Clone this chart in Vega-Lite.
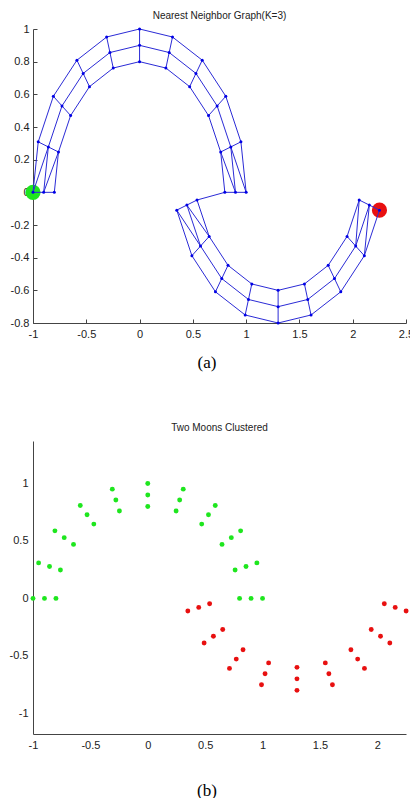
{
  "$schema": "https://vega.github.io/schema/vega-lite/v6.json",
  "background": "white",
  "padding": {"left": 9, "top": 11, "right": 0, "bottom": 0},
  "config": {
    "view": {"stroke": null},
    "font": "Liberation Sans",
    "concat": {"spacing": 53},
    "title": {"font": "Liberation Sans", "fontSize": 10, "fontWeight": "normal", "color": "#222", "offset": 8, "anchor": "middle"},
    "axis": {"grid": false, "labelFont": "Liberation Sans", "labelFontSize": 11, "labelColor": "#222", "domainColor": "#444", "tickColor": "#444", "labelFlush": false, "labelOverlap": false, "titleFont": "Liberation Serif", "titleFontSize": 17, "titleFontWeight": "normal", "titleColor": "#000"}
  },
  "datasets": {
    "points": [
      {"id": "U180-10", "x": -1, "y": 0, "cluster": "A"},
      {"id": "U162-10", "x": -0.951, "y": 0.309, "cluster": "A"},
      {"id": "U144-10", "x": -0.809, "y": 0.588, "cluster": "A"},
      {"id": "U126-10", "x": -0.588, "y": 0.809, "cluster": "A"},
      {"id": "U108-10", "x": -0.309, "y": 0.951, "cluster": "A"},
      {"id": "U90-10", "x": 0, "y": 1, "cluster": "A"},
      {"id": "U72-10", "x": 0.309, "y": 0.951, "cluster": "A"},
      {"id": "U54-10", "x": 0.588, "y": 0.809, "cluster": "A"},
      {"id": "U36-10", "x": 0.809, "y": 0.588, "cluster": "A"},
      {"id": "U18-10", "x": 0.951, "y": 0.309, "cluster": "A"},
      {"id": "U0-10", "x": 1, "y": 0, "cluster": "A"},
      {"id": "U180-9", "x": -0.9, "y": 0, "cluster": "A"},
      {"id": "U162-9", "x": -0.856, "y": 0.278, "cluster": "A"},
      {"id": "U144-9", "x": -0.728, "y": 0.529, "cluster": "A"},
      {"id": "U126-9", "x": -0.529, "y": 0.728, "cluster": "A"},
      {"id": "U108-9", "x": -0.278, "y": 0.856, "cluster": "A"},
      {"id": "U90-9", "x": 0, "y": 0.9, "cluster": "A"},
      {"id": "U72-9", "x": 0.278, "y": 0.856, "cluster": "A"},
      {"id": "U54-9", "x": 0.529, "y": 0.728, "cluster": "A"},
      {"id": "U36-9", "x": 0.728, "y": 0.529, "cluster": "A"},
      {"id": "U18-9", "x": 0.856, "y": 0.278, "cluster": "A"},
      {"id": "U0-9", "x": 0.9, "y": 0, "cluster": "A"},
      {"id": "U180-8", "x": -0.8, "y": 0, "cluster": "A"},
      {"id": "U162-8", "x": -0.761, "y": 0.247, "cluster": "A"},
      {"id": "U144-8", "x": -0.647, "y": 0.47, "cluster": "A"},
      {"id": "U126-8", "x": -0.47, "y": 0.647, "cluster": "A"},
      {"id": "U108-8", "x": -0.247, "y": 0.761, "cluster": "A"},
      {"id": "U90-8", "x": 0, "y": 0.8, "cluster": "A"},
      {"id": "U72-8", "x": 0.247, "y": 0.761, "cluster": "A"},
      {"id": "U54-8", "x": 0.47, "y": 0.647, "cluster": "A"},
      {"id": "U36-8", "x": 0.647, "y": 0.47, "cluster": "A"},
      {"id": "U18-8", "x": 0.761, "y": 0.247, "cluster": "A"},
      {"id": "U0-8", "x": 0.8, "y": 0, "cluster": "A"},
      {"id": "L18-10", "x": 2.251, "y": -0.109, "cluster": "B"},
      {"id": "L36-10", "x": 2.109, "y": -0.388, "cluster": "B"},
      {"id": "L54-10", "x": 1.888, "y": -0.609, "cluster": "B"},
      {"id": "L72-10", "x": 1.609, "y": -0.751, "cluster": "B"},
      {"id": "L90-10", "x": 1.3, "y": -0.8, "cluster": "B"},
      {"id": "L108-10", "x": 0.991, "y": -0.751, "cluster": "B"},
      {"id": "L126-10", "x": 0.712, "y": -0.609, "cluster": "B"},
      {"id": "L144-10", "x": 0.491, "y": -0.388, "cluster": "B"},
      {"id": "L162-10", "x": 0.349, "y": -0.109, "cluster": "B"},
      {"id": "L18-9", "x": 2.156, "y": -0.078, "cluster": "B"},
      {"id": "L36-9", "x": 2.028, "y": -0.329, "cluster": "B"},
      {"id": "L54-9", "x": 1.829, "y": -0.528, "cluster": "B"},
      {"id": "L72-9", "x": 1.578, "y": -0.656, "cluster": "B"},
      {"id": "L90-9", "x": 1.3, "y": -0.7, "cluster": "B"},
      {"id": "L108-9", "x": 1.022, "y": -0.656, "cluster": "B"},
      {"id": "L126-9", "x": 0.771, "y": -0.528, "cluster": "B"},
      {"id": "L144-9", "x": 0.572, "y": -0.329, "cluster": "B"},
      {"id": "L162-9", "x": 0.444, "y": -0.078, "cluster": "B"},
      {"id": "L18-8", "x": 2.061, "y": -0.047, "cluster": "B"},
      {"id": "L36-8", "x": 1.947, "y": -0.27, "cluster": "B"},
      {"id": "L54-8", "x": 1.77, "y": -0.447, "cluster": "B"},
      {"id": "L72-8", "x": 1.547, "y": -0.561, "cluster": "B"},
      {"id": "L90-8", "x": 1.3, "y": -0.6, "cluster": "B"},
      {"id": "L108-8", "x": 1.053, "y": -0.561, "cluster": "B"},
      {"id": "L126-8", "x": 0.83, "y": -0.447, "cluster": "B"},
      {"id": "L144-8", "x": 0.653, "y": -0.27, "cluster": "B"},
      {"id": "L162-8", "x": 0.539, "y": -0.047, "cluster": "B"}
    ],
    "seeds": [
      {"x": -1, "y": 0, "cluster": "A"},
      {"x": 2.251, "y": -0.109, "cluster": "B"}
    ],
    "edges": [
      {"s": "U180-10", "t": "U162-10"}, {"s": "U162-10", "t": "U144-10"}, {"s": "U144-10", "t": "U126-10"}, {"s": "U126-10", "t": "U108-10"}, {"s": "U108-10", "t": "U90-10"},
      {"s": "U90-10", "t": "U72-10"}, {"s": "U72-10", "t": "U54-10"}, {"s": "U54-10", "t": "U36-10"}, {"s": "U36-10", "t": "U18-10"}, {"s": "U18-10", "t": "U0-10"},
      {"s": "U180-9", "t": "U162-9"}, {"s": "U162-9", "t": "U144-9"}, {"s": "U144-9", "t": "U126-9"}, {"s": "U126-9", "t": "U108-9"}, {"s": "U108-9", "t": "U90-9"},
      {"s": "U90-9", "t": "U72-9"}, {"s": "U72-9", "t": "U54-9"}, {"s": "U54-9", "t": "U36-9"}, {"s": "U36-9", "t": "U18-9"}, {"s": "U18-9", "t": "U0-9"},
      {"s": "U180-8", "t": "U162-8"}, {"s": "U162-8", "t": "U144-8"}, {"s": "U144-8", "t": "U126-8"}, {"s": "U126-8", "t": "U108-8"}, {"s": "U108-8", "t": "U90-8"},
      {"s": "U90-8", "t": "U72-8"}, {"s": "U72-8", "t": "U54-8"}, {"s": "U54-8", "t": "U36-8"}, {"s": "U36-8", "t": "U18-8"}, {"s": "U18-8", "t": "U0-8"},
      {"s": "U180-10", "t": "U180-9"}, {"s": "U180-9", "t": "U180-8"}, {"s": "U162-10", "t": "U162-9"}, {"s": "U162-9", "t": "U162-8"},
      {"s": "U144-10", "t": "U144-9"}, {"s": "U144-9", "t": "U144-8"}, {"s": "U126-10", "t": "U126-9"}, {"s": "U126-9", "t": "U126-8"},
      {"s": "U108-10", "t": "U108-9"}, {"s": "U108-9", "t": "U108-8"}, {"s": "U90-10", "t": "U90-9"}, {"s": "U90-9", "t": "U90-8"},
      {"s": "U72-10", "t": "U72-9"}, {"s": "U72-9", "t": "U72-8"}, {"s": "U54-10", "t": "U54-9"}, {"s": "U54-9", "t": "U54-8"},
      {"s": "U36-10", "t": "U36-9"}, {"s": "U36-9", "t": "U36-8"}, {"s": "U18-10", "t": "U18-9"}, {"s": "U18-9", "t": "U18-8"},
      {"s": "U0-10", "t": "U0-9"}, {"s": "U0-9", "t": "U0-8"},
      {"s": "U180-10", "t": "U162-9"}, {"s": "U180-9", "t": "U162-8"}, {"s": "U0-10", "t": "U18-9"}, {"s": "U0-9", "t": "U18-8"},
      {"s": "L18-10", "t": "L36-10"}, {"s": "L36-10", "t": "L54-10"}, {"s": "L54-10", "t": "L72-10"}, {"s": "L72-10", "t": "L90-10"},
      {"s": "L90-10", "t": "L108-10"}, {"s": "L108-10", "t": "L126-10"}, {"s": "L126-10", "t": "L144-10"}, {"s": "L144-10", "t": "L162-10"},
      {"s": "L18-9", "t": "L36-9"}, {"s": "L36-9", "t": "L54-9"}, {"s": "L54-9", "t": "L72-9"}, {"s": "L72-9", "t": "L90-9"},
      {"s": "L90-9", "t": "L108-9"}, {"s": "L108-9", "t": "L126-9"}, {"s": "L126-9", "t": "L144-9"}, {"s": "L144-9", "t": "L162-9"},
      {"s": "L18-8", "t": "L36-8"}, {"s": "L36-8", "t": "L54-8"}, {"s": "L54-8", "t": "L72-8"}, {"s": "L72-8", "t": "L90-8"},
      {"s": "L90-8", "t": "L108-8"}, {"s": "L108-8", "t": "L126-8"}, {"s": "L126-8", "t": "L144-8"}, {"s": "L144-8", "t": "L162-8"},
      {"s": "L18-10", "t": "L18-9"}, {"s": "L18-9", "t": "L18-8"}, {"s": "L36-10", "t": "L36-9"}, {"s": "L36-9", "t": "L36-8"},
      {"s": "L54-10", "t": "L54-9"}, {"s": "L54-9", "t": "L54-8"}, {"s": "L72-10", "t": "L72-9"}, {"s": "L72-9", "t": "L72-8"},
      {"s": "L90-10", "t": "L90-9"}, {"s": "L90-9", "t": "L90-8"}, {"s": "L108-10", "t": "L108-9"}, {"s": "L108-9", "t": "L108-8"},
      {"s": "L126-10", "t": "L126-9"}, {"s": "L126-9", "t": "L126-8"}, {"s": "L144-10", "t": "L144-9"}, {"s": "L144-9", "t": "L144-8"},
      {"s": "L162-10", "t": "L162-9"}, {"s": "L162-9", "t": "L162-8"},
      {"s": "L162-10", "t": "L144-9"}, {"s": "L162-9", "t": "L144-8"}, {"s": "L18-8", "t": "L36-9"}, {"s": "L18-9", "t": "L36-10"},
      {"s": "U0-8", "t": "L162-8"}
    ]
  },
  "vconcat": [
    {
      "title": {"text": "Nearest Neighbor Graph(K=3)", "offset": 2},
      "width": 373,
      "height": 294,
      "encoding": {
        "x": {"field": "x", "type": "quantitative", "scale": {"domain": [-1, 2.5], "nice": false, "zero": false},
          "axis": {"values": [-1, -0.5, 0, 0.5, 1, 1.5, 2, 2.5], "labelExpr": "'' + datum.value", "tickSize": -4, "labelPadding": 9, "labelOverlap": false, "title": "(a)", "titlePadding": 15, "titleX": 173.5, "titleAlign": "center"}},
        "y": {"field": "y", "type": "quantitative", "scale": {"domain": [-0.8, 1], "nice": false, "zero": false},
          "axis": {"values": [-0.8, -0.6, -0.4, -0.2, 0, 0.2, 0.4, 0.6, 0.8, 1], "tickCount": 10, "labelExpr": "'' + datum.value", "tickSize": -4, "labelPadding": 8, "labelOverlap": false, "title": null}}
      },
      "layer": [
        {
          "data": {"name": "seeds"},
          "mark": {"type": "circle", "size": 230, "opacity": 1},
          "encoding": {
            "color": {"field": "cluster", "type": "nominal", "scale": {"domain": ["A", "B"], "range": ["#1ee61e", "#e81010"]}, "legend": null}
          }
        },
        {
          "data": {"name": "edges"},
          "transform": [
            {"lookup": "s", "from": {"data": {"name": "points"}, "key": "id", "fields": ["x", "y"]}, "as": ["x", "y"]},
            {"lookup": "t", "from": {"data": {"name": "points"}, "key": "id", "fields": ["x", "y"]}, "as": ["tx", "ty"]}
          ],
          "mark": {"type": "rule", "color": "#2b2bd6", "strokeWidth": 1},
          "encoding": {
            "x2": {"field": "tx"},
            "y2": {"field": "ty"}
          }
        },
        {
          "data": {"name": "points"},
          "mark": {"type": "circle", "size": 9, "color": "#0000e6", "opacity": 1}
        }
      ]
    },
    {
      "title": {"text": "Two Moons Clustered", "offset": 8},
      "width": 373,
      "height": 293,
      "data": {"name": "points"},
      "mark": {"type": "circle", "size": 24, "opacity": 1},
      "encoding": {
        "x": {"field": "x", "type": "quantitative", "scale": {"domain": [-1, 2.25], "nice": false, "zero": false},
          "axis": {"values": [-1, -0.5, 0, 0.5, 1, 1.5, 2], "labelExpr": "'' + datum.value", "ticks": false, "labelPadding": 5, "labelOverlap": false, "title": "(b)", "titlePadding": 32, "titleX": 173.5, "titleAlign": "center"}},
        "y": {"field": "y", "type": "quantitative", "scale": {"domain": [-1.18, 1.37], "nice": false, "zero": false},
          "axis": {"values": [-1, -0.5, 0, 0.5, 1], "labelExpr": "'' + datum.value", "ticks": false, "labelPadding": 5, "labelOverlap": false, "title": null}},
        "color": {"field": "cluster", "type": "nominal", "scale": {"domain": ["A", "B"], "range": ["#1ee61e", "#e81010"]}, "legend": null}
      }
    }
  ]
}
